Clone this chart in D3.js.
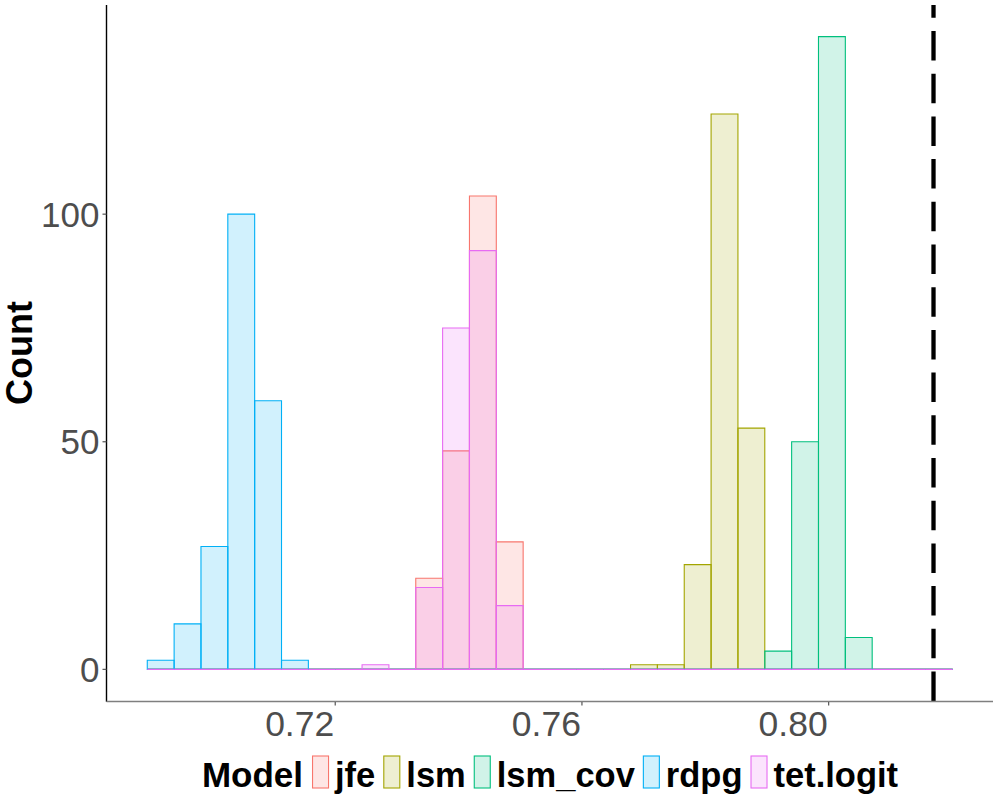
<!DOCTYPE html>
<html>
<head>
<meta charset="utf-8">
<script src="https://cdn.jsdelivr.net/npm/d3@7"></script>
<style>
  html, body { margin: 0; padding: 0; background: #fff; }
  svg { display: block; }
  text { font-family: "Liberation Sans", Arial, Helvetica, sans-serif; }
</style>
</head>
<body>
<svg id="chart" width="1000" height="800"></svg>
<script>
// ---- data ----
const models = ["jfe", "lsm", "lsm_cov", "rdpg", "tet.logit"];
const colors = ["#F8766D", "#A3A500", "#00BF7D", "#00B0F6", "#E76BF3"];
const binStart = 0.689526;
const binWidth = 0.004353;
//                0  1  2   3   4  5  6  7  8  9  10  11   12  13 14 15 16 17 18 19 20   21  22 23  24   25 26 27 28 29
const jfeCounts  = [0, 0, 0,  0,  0, 0, 0, 0, 0, 0, 20, 48, 104, 28, 0, 0, 0, 0, 0, 0,  0,   0,  0, 0,  0,   0, 0, 0, 0, 0];
const lsmCounts  = [0, 0, 0,  0,  0, 0, 0, 0, 0, 0,  0,  0,   0,  0, 0, 0, 0, 0, 1, 1, 23, 122, 53, 0,  0,   0, 0, 0, 0, 0];
const lsmCovCounts = [0, 0, 0, 0, 0, 0, 0, 0, 0, 0,  0,  0,   0,  0, 0, 0, 0, 0, 0, 0,  0,   0,  0, 4, 50, 139, 7, 0, 0, 0];
const rdpgCounts = [2, 10, 27, 100, 59, 2, 0, 0, 0, 0, 0,  0,   0,  0, 0, 0, 0, 0, 0, 0,  0,   0,  0, 0,  0,   0, 0, 0, 0, 0];
const tetCounts  = [0, 0, 0,  0,  0, 0, 0, 0, 1, 0, 18, 75,  92, 14, 0, 0, 0, 0, 0, 0,  0,   0,  0, 0,  0,   0, 0, 0, 0, 0];
const seriesCounts = [jfeCounts, lsmCounts, lsmCovCounts, rdpgCounts, tetCounts];
const refLine = 0.817;
const xTicks = [0.72, 0.76, 0.80];
const xTickLabels = ["0.72", "0.76", "0.80"];
const yTicks = [0, 50, 100];
const yTickLabels = ["0", "50", "100"];
const yTitle = "Count";
const legendTitle = "Model";

// ---- layout ----
const panel = { left: 107, right: 993, top: 5, bottom: 701 };
const svg = d3.select("#chart");

const nBins = jfeCounts.length;
const lo = binStart, hi = binStart + nBins * binWidth;
const xr = hi - lo;
const x = d3.scaleLinear().domain([lo - 0.05 * xr, hi + 0.05 * xr]).range([panel.left, panel.right]);
const ymax = d3.max(seriesCounts, s => d3.max(s));
const y = d3.scaleLinear().domain([-0.05 * ymax, 1.05 * ymax]).range([panel.bottom, panel.top]);

// ---- bars ----
const gBars = svg.append("g");
seriesCounts.forEach((counts, si) => {
  const bins = counts.map((c, i) => ({ x0: binStart + i * binWidth, x1: binStart + (i + 1) * binWidth, c }));
  gBars.append("g").selectAll("path").data(bins).join("path")
    .attr("d", d => {
      const p = d3.path();
      p.moveTo(x(d.x0), y(0));
      p.lineTo(x(d.x0), y(d.c));
      p.lineTo(x(d.x1), y(d.c));
      p.lineTo(x(d.x1), y(0));
      p.closePath();
      return p.toString();
    })
    .attr("fill", colors[si])
    .attr("fill-opacity", 0.18)
    .attr("stroke", colors[si])
    .attr("stroke-width", 1.1);
});

// ---- reference line (dashed, drawn bottom -> top) ----
svg.append("line")
  .attr("x1", x(refLine)).attr("x2", x(refLine))
  .attr("y1", panel.bottom).attr("y2", panel.top)
  .attr("stroke", "#000").attr("stroke-width", 4.3)
  .attr("stroke-dasharray", "29.5,13.2");

// ---- axes ----
const tickColor = "#555";
const labelColor = "#4D4D4D";
// y axis
svg.append("line").attr("x1", panel.left - 0.5).attr("x2", panel.left - 0.5)
  .attr("y1", panel.top).attr("y2", panel.bottom + 0.7)
  .attr("stroke", "#000").attr("stroke-width", 1.4);
const gy = svg.append("g");
gy.selectAll("line").data(yTicks).join("line")
  .attr("x1", panel.left - 4.5).attr("x2", panel.left - 0.5)
  .attr("y1", d => y(d)).attr("y2", d => y(d))
  .attr("stroke", tickColor).attr("stroke-width", 1.2);
gy.selectAll("text").data(yTicks).join("text")
  .attr("x", 99.5).attr("y", d => y(d)).attr("dy", "0.36em")
  .attr("text-anchor", "end")
  .attr("font-size", 35).attr("fill", labelColor)
  .text((d, i) => yTickLabels[i]);

// x axis
svg.append("line").attr("x1", panel.left - 0.5).attr("x2", panel.right)
  .attr("y1", panel.bottom + 0.5).attr("y2", panel.bottom + 0.5)
  .attr("stroke", "#7F7F7F").attr("stroke-width", 1.6);
const gx = svg.append("g");
gx.selectAll("line").data(xTicks).join("line")
  .attr("x1", d => x(d)).attr("x2", d => x(d))
  .attr("y1", panel.bottom + 1).attr("y2", panel.bottom + 4.5)
  .attr("stroke", tickColor).attr("stroke-width", 1.2);
gx.selectAll("text").data(xTicks).join("text")
  .attr("x", d => x(d) - 1).attr("y", 736)
  .attr("text-anchor", "end")
  .attr("font-size", 35.5).attr("fill", labelColor)
  .text((d, i) => xTickLabels[i]);

// y title
svg.append("text")
  .attr("transform", `translate(32,${(panel.top + panel.bottom) / 2}) rotate(-90)`)
  .attr("text-anchor", "middle")
  .attr("font-size", 36).attr("font-weight", "bold").attr("fill", "#000")
  .text(yTitle);

// ---- legend ----
const legendBaseline = 787;
const gL = svg.append("g");
const keyW = 16, keyH = 32, keyTop = 756;
let cx = 0;
const titleT = gL.append("text").attr("x", cx).attr("y", legendBaseline)
  .attr("font-size", 35).attr("font-weight", "bold").attr("fill", "#000").text(legendTitle);
cx += titleT.node().getComputedTextLength() + 9;
models.forEach((m, i) => {
  gL.append("rect").attr("x", cx + 0.5).attr("y", keyTop)
    .attr("width", keyW).attr("height", keyH)
    .attr("fill", colors[i]).attr("fill-opacity", 0.18)
    .attr("stroke", colors[i]).attr("stroke-width", 1.1);
  cx += keyW + 7;
  const t = gL.append("text").attr("x", cx).attr("y", legendBaseline)
    .attr("font-size", 34.5).attr("font-weight", "bold").attr("fill", "#000").text(m);
  cx += t.node().getComputedTextLength() + 8;
});
const legendW = cx - 8;
gL.attr("transform", `translate(${(panel.left + panel.right) / 2 - legendW / 2},0)`);
</script>
</body>
</html>
